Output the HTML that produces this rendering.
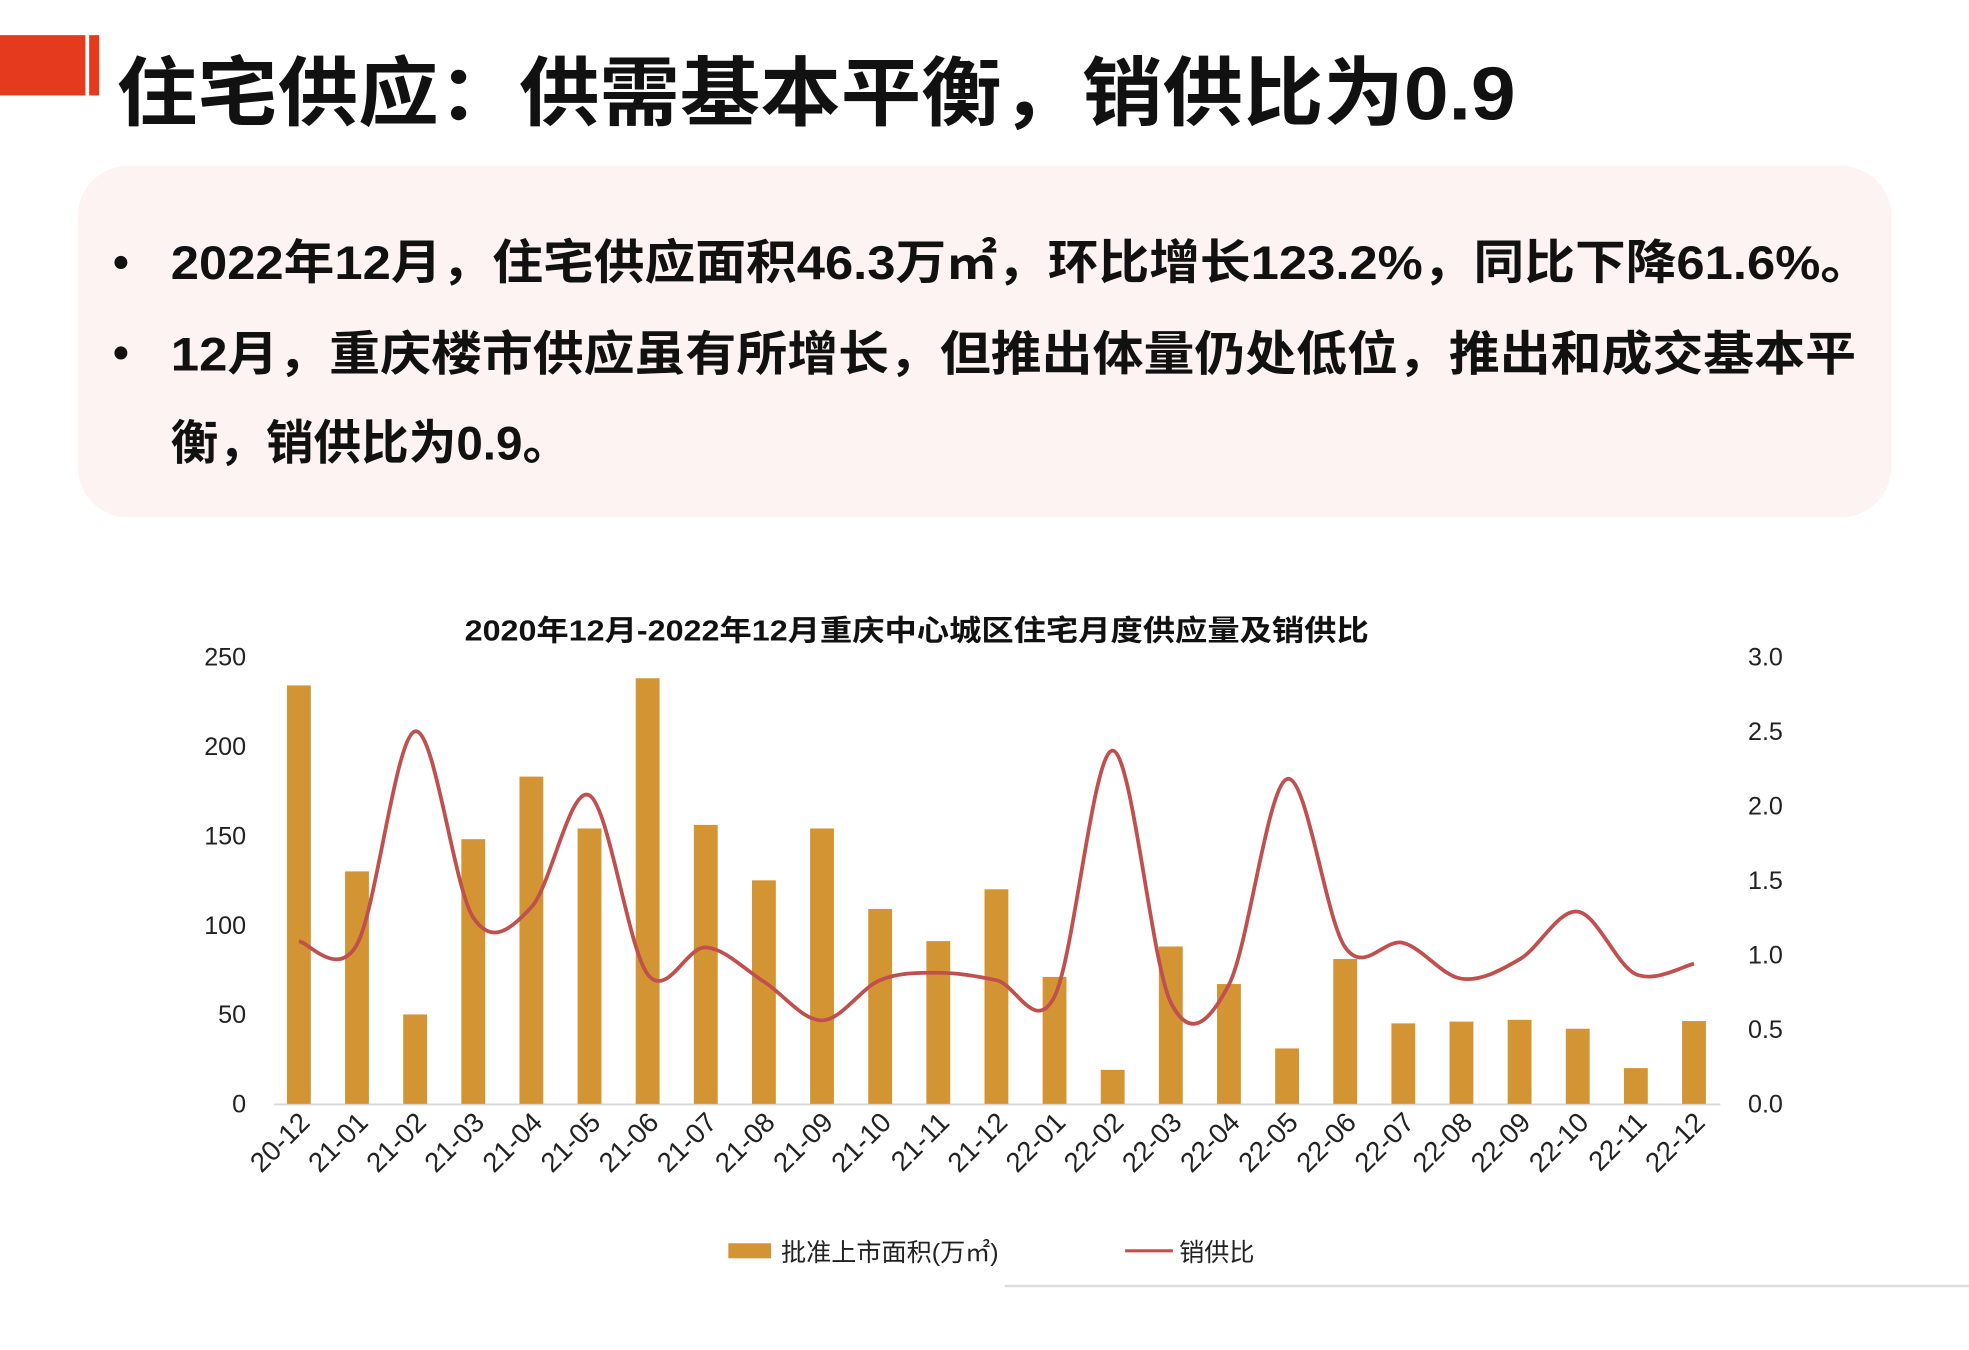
<!DOCTYPE html>
<html><head><meta charset="utf-8"><style>
html,body{margin:0;padding:0;background:#fff;}
svg{display:block;}
text{font-family:"Liberation Sans","Noto Sans CJK SC",sans-serif;}
</style></head><body>
<svg id="s" width="1969" height="1350" viewBox="0 0 1568 1075" preserveAspectRatio="none" xmlns="http://www.w3.org/2000/svg">
<rect width="1568" height="1075" fill="#fff"/>
<rect x="0" y="28" width="68" height="48" fill="#e63a1e"/>
<rect x="71" y="28" width="8" height="48" fill="#e63a1e"/>
<text x="93" y="95" font-size="60" font-weight="bold" fill="#111" textLength="1114" lengthAdjust="spacingAndGlyphs">住宅供应：供需基本平衡，销供比为0.9</text>
<rect x="62" y="132" width="1444" height="280" rx="40" fill="#fcf3f2"/>
<text x="90" y="221" font-size="36" font-weight="bold" fill="#111">•</text>
<text x="136" y="222" font-size="38" font-weight="bold" fill="#111" textLength="1354" lengthAdjust="spacingAndGlyphs">2022年12月，住宅供应面积46.3万㎡，环比增长123.2%，同比下降61.6%。</text>
<text x="90" y="293" font-size="36" font-weight="bold" fill="#111">•</text>
<text x="136" y="295" font-size="38" font-weight="bold" fill="#111" textLength="1342" lengthAdjust="spacingAndGlyphs">12月，重庆楼市供应虽有所增长，但推出体量仍处低位，推出和成交基本平</text>
<text x="136" y="366" font-size="38" font-weight="bold" fill="#111" textLength="318" lengthAdjust="spacingAndGlyphs">衡，销供比为0.9。</text>
<text x="370" y="510" font-size="23" font-weight="bold" fill="#111" textLength="720" lengthAdjust="spacingAndGlyphs">2020年12月-2022年12月重庆中心城区住宅月度供应量及销供比</text>
<line x1="218" y1="879.5" x2="1370" y2="879.5" stroke="#d9d9d9" stroke-width="1.5"/>
<g id="g"></g>
<rect x="580" y="990" width="34" height="12" fill="#d39533"/>
<text x="622" y="1004" font-size="20" fill="#222">批准上市面积(万㎡)</text>
<line x1="896" y1="996" x2="934" y2="996" stroke="#c0504d" stroke-width="2.5"/>
<text x="939" y="1004" font-size="20" fill="#222">销供比</text>
<line x1="800" y1="1024" x2="1568" y2="1024" stroke="#ddd" stroke-width="2"/>
</svg>
<script>
var g=document.getElementById('g'),h='';
var cats=['20-12','21-01','21-02','21-03','21-04','21-05','21-06','21-07','21-08','21-09','21-10','21-11','21-12','22-01','22-02','22-03','22-04','22-05','22-06','22-07','22-08','22-09','22-10','22-11','22-12'];
var v=[234,130,50,148,183,154,238,156,125,154,109,91,120,71,19,88,67,31,81,45,46,47,42,20,46.3];
var r=[1.09,1.07,2.5,1.25,1.32,2.07,0.87,1.05,0.82,0.56,0.83,0.88,0.83,0.72,2.37,0.68,0.8,2.18,1.05,1.08,0.84,0.97,1.29,0.87,0.94];
var y0=879,sp=(1349-238)/24;
for(var i=0;i<6;i++){h+='<text x="196" y="'+(y0-i*71.2+7)+'" font-size="20" fill="#222" text-anchor="end">'+(i*50)+'</text>';}
for(var i=0;i<7;i++){h+='<text x="1392" y="'+(y0-i*59.33+7)+'" font-size="20" fill="#222">'+(i*0.5).toFixed(1)+'</text>';}
var pts=[];
for(var i=0;i<25;i++){var x=238+i*sp,hh=v[i]*356/250;
h+='<rect x="'+(x-9.5)+'" y="'+(y0-hh)+'" width="19" height="'+hh+'" fill="#d39533"/>';
h+='<text transform="translate('+(x+10)+',895) rotate(-45)" font-size="22" fill="#222" text-anchor="end">'+cats[i]+'</text>';
pts.push([x,y0-r[i]*356/3]);}
var d='M'+pts[0][0]+','+pts[0][1];
for(var i=0;i<24;i++){var p0=pts[Math.max(0,i-1)],p1=pts[i],p2=pts[i+1],p3=pts[Math.min(24,i+2)];
d+=' C'+(p1[0]+(p2[0]-p0[0])/6)+','+(p1[1]+(p2[1]-p0[1])/6)+' '+(p2[0]-(p3[0]-p1[0])/6)+','+(p2[1]-(p3[1]-p1[1])/6)+' '+p2[0]+','+p2[1];}
h+='<path d="'+d+'" fill="none" stroke="#c0504d" stroke-width="3"/>';
g.innerHTML=h;
</script>
</body></html>
